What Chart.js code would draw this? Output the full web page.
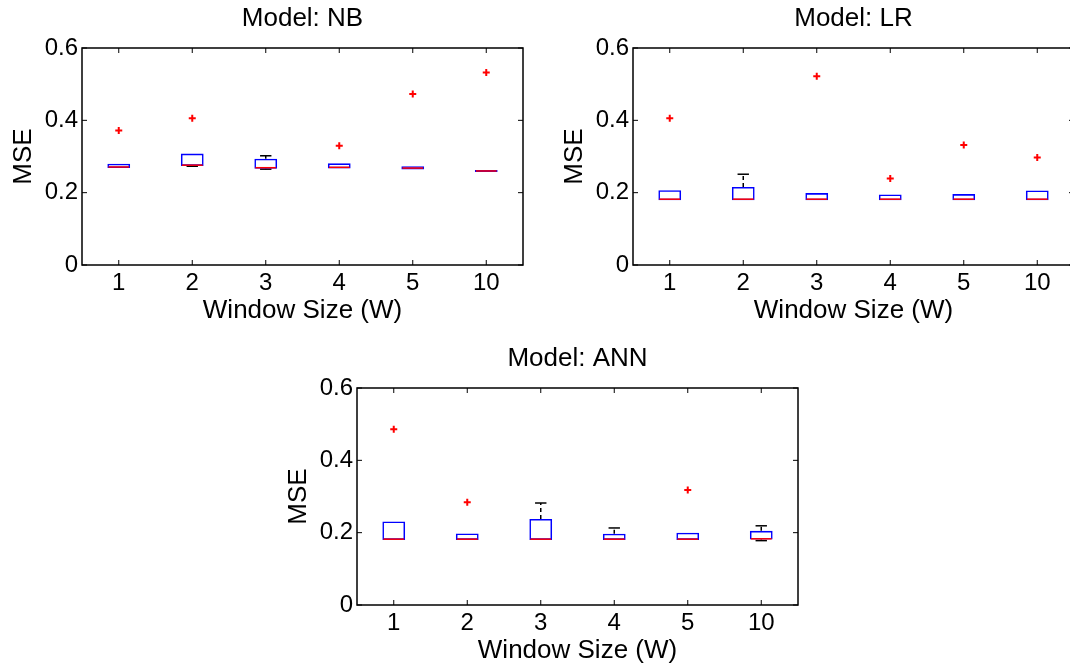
<!DOCTYPE html>
<html>
<head>
<meta charset="utf-8">
<script src="https://cdn.jsdelivr.net/npm/chart.js@4.4.0/dist/chart.umd.min.js"></script>
<style>
html, body { margin: 0; padding: 0; background: #fff; overflow: hidden; width: 1070px; height: 667px; }
canvas { position: absolute; }
</style>
</head>
<body>
<canvas id="nb" width="541" height="330" style="left:-8px;top:0px"></canvas>
<canvas id="lr" width="541" height="330" style="left:543px;top:0px"></canvas>
<canvas id="ann" width="541" height="330" style="left:267px;top:340px"></canvas>
<script>
'use strict';

// window sizes on the x axis
const windowSizes = ['1', '2', '3', '4', '5', '10'];
const yTicks = [0, 0.2, 0.4, 0.6];
const yTickLabels = ['0', '0.2', '0.4', '0.6'];

// Model: NB
const nbLow = [0.268, 0.273, 0.265, 0.267, 0.264, 0.257];
const nbQ1 = [0.268, 0.274, 0.266, 0.267, 0.264, 0.257];
const nbMedian = [0.271, 0.276, 0.269, 0.270, 0.268, 0.260];
const nbQ3 = [0.280, 0.308, 0.294, 0.281, 0.273, 0.263];
const nbHigh = [0.280, 0.308, 0.302, 0.281, 0.273, 0.263];
const nbOutliers = [0.372, 0.406, null, 0.330, 0.473, 0.532];

// Model: LR
const lrLow = [0.179, 0.179, 0.179, 0.179, 0.179, 0.179];
const lrQ1 = [0.179, 0.179, 0.179, 0.179, 0.179, 0.179];
const lrMedian = [0.182, 0.182, 0.182, 0.182, 0.182, 0.182];
const lrQ3 = [0.207, 0.216, 0.199, 0.195, 0.196, 0.206];
const lrHigh = [0.207, 0.251, 0.199, 0.195, 0.196, 0.206];
const lrOutliers = [0.406, null, 0.522, 0.239, 0.332, 0.297];

// Model: ANN
const annLow = [0.180, 0.180, 0.180, 0.180, 0.180, 0.178];
const annQ1 = [0.180, 0.180, 0.180, 0.180, 0.180, 0.181];
const annMedian = [0.182, 0.182, 0.182, 0.182, 0.182, 0.183];
const annQ3 = [0.231, 0.198, 0.238, 0.197, 0.200, 0.205];
const annHigh = [0.231, 0.198, 0.282, 0.213, 0.200, 0.219];
const annOutliers = [0.486, 0.284, null, null, 0.318, null];

Chart.defaults.font.family = '"Liberation Sans", Arial, Helvetica, sans-serif';
Chart.defaults.color = '#000';

// whiskers, medians and the matlab-like frame (boxes are dataset 1)
const boxParts = {
  id: 'boxParts',
  beforeDatasetsDraw(chart, args, opts) {
    const ctx = chart.ctx, y = chart.scales.y;
    const bars = chart.getDatasetMeta(1).data;
    ctx.save();
    ctx.strokeStyle = '#000';
    ctx.lineWidth = 1.5;
    bars.forEach(function(bar, i) {
      const cap = bar.width / 4;
      const ends = [[opts.q3[i], opts.high[i]], [opts.q1[i], opts.low[i]]];
      ends.forEach(function(e) {
        if (e[0] === e[1]) return;
        const y0 = y.getPixelForValue(e[0]), y1 = y.getPixelForValue(e[1]);
        ctx.setLineDash([4, 3]);
        ctx.beginPath();
        ctx.moveTo(bar.x, y0); ctx.lineTo(bar.x, y1);
        ctx.stroke();
        ctx.setLineDash([]);
        ctx.beginPath();
        ctx.moveTo(bar.x - cap, y1); ctx.lineTo(bar.x + cap, y1);
        ctx.stroke();
      });
    });
    ctx.restore();
  },
  afterDatasetsDraw(chart, args, opts) {
    const ctx = chart.ctx, y = chart.scales.y;
    const bars = chart.getDatasetMeta(1).data;
    ctx.save();
    ctx.strokeStyle = '#ff0000';
    ctx.lineWidth = 1.5;
    bars.forEach(function(bar, i) {
      const ym = y.getPixelForValue(opts.median[i]);
      ctx.beginPath();
      ctx.moveTo(bar.x - bar.width / 2 + 1, ym);
      ctx.lineTo(bar.x + bar.width / 2 - 1, ym);
      ctx.stroke();
    });
    ctx.restore();
  },
  afterDraw(chart) {
    const ctx = chart.ctx, a = chart.chartArea;
    const x = chart.scales.x, y = chart.scales.y;
    ctx.save();
    ctx.strokeStyle = '#000';
    ctx.lineWidth = 1.5;
    ctx.strokeRect(a.left, a.top, a.right - a.left, a.bottom - a.top);
    ctx.lineWidth = 1;
    ctx.beginPath();
    windowSizes.forEach(function(l, i) {
      const px = x.getPixelForValue(i);
      ctx.moveTo(px, a.bottom); ctx.lineTo(px, a.bottom - 5);
      ctx.moveTo(px, a.top); ctx.lineTo(px, a.top + 5);
    });
    yTicks.forEach(function(v) {
      const py = y.getPixelForValue(v);
      ctx.moveTo(a.left, py); ctx.lineTo(a.left + 5, py);
      ctx.moveTo(a.right, py); ctx.lineTo(a.right - 5, py);
    });
    ctx.stroke();
    ctx.restore();
  }
};

function makePanel(id, title, low, q1, median, q3, high, outliers) {
  const boxes = q1.map(function(v, i) { return [v, q3[i]]; });
  return new Chart(document.getElementById(id), {
    type: 'bar',
    data: {
      labels: windowSizes,
      datasets: [
        {
          type: 'line',
          data: outliers,
          showLine: false,
          pointStyle: 'cross',
          pointRadius: 3.5,
          pointBorderWidth: 2,
          borderColor: '#ff0000',
          backgroundColor: '#ff0000'
        },
        {
          data: boxes,
          backgroundColor: 'rgba(255,255,255,0)',
          borderColor: '#0000ff',
          borderWidth: 1.6,
          borderSkipped: false,
          barPercentage: 0.31,
          categoryPercentage: 1
        }
      ]
    },
    options: {
      responsive: false,
      animation: false,
      devicePixelRatio: 1,
      layout: { padding: { left: 0, right: 10, top: 0, bottom: 0 } },
      plugins: {
        legend: { display: false },
        tooltip: { enabled: false },
        title: {
          display: true,
          text: title,
          fullSize: false,
          font: { size: 26, weight: 'normal', lineHeight: 1.2 },
          padding: { top: 3, bottom: 13.8 }
        },
        boxParts: { low: low, q1: q1, median: median, q3: q3, high: high }
      },
      scales: {
        x: {
          type: 'category',
          offset: true,
          grid: { display: false, drawTicks: false },
          border: { display: false },
          ticks: { font: { size: 24 }, padding: 4, maxRotation: 0 },
          title: { display: true, text: 'Window Size (W)', font: { size: 26 }, padding: { top: 0, bottom: 4 } },
          afterFit: function(scale) { scale.height = 65; }
        },
        y: {
          min: 0,
          max: 0.6,
          grid: { display: false, drawTicks: false },
          border: { display: false },
          afterBuildTicks: function(scale) { scale.ticks = yTicks.map(function(v) { return { value: v }; }); },
          ticks: {
            font: { size: 24 },
            padding: 4,
            callback: function(v) { return yTickLabels[yTicks.indexOf(v)]; }
          },
          title: { display: true, text: 'MSE', font: { size: 26 }, padding: { top: 16, bottom: 0 } },
          afterFit: function(scale) { scale.width = 90; }
        }
      }
    },
    plugins: [boxParts]
  });
}

makePanel('nb', 'Model: NB', nbLow, nbQ1, nbMedian, nbQ3, nbHigh, nbOutliers);
makePanel('lr', 'Model: LR', lrLow, lrQ1, lrMedian, lrQ3, lrHigh, lrOutliers);
makePanel('ann', 'Model: ANN', annLow, annQ1, annMedian, annQ3, annHigh, annOutliers);
</script>
</body>
</html>
